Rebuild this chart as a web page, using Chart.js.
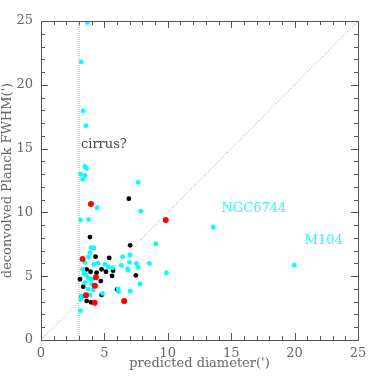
<!DOCTYPE html>
<html lang="en">
<head>
    <meta charset="UTF-8">
    <title>Planck FWHM vs predicted diameter</title>
    <script src="https://cdn.jsdelivr.net/npm/chart.js"></script>
    <style>
        body { margin: 0; padding: 0; background: #fff; }
        #wrap { width: 382px; height: 382px; }
    </style>
</head>
<body>
    <div id="wrap"><canvas id="chart"></canvas></div>
    <script>
        // cyan points (predicted diameter, deconvolved FWHM)
        const cyanX = [3.65, 3.17, 3.31, 3.54, 3.46, 3.6, 3.12, 3.46, 3.28, 7.66, 4.41, 7.85, 3.12, 3.75, 13.57, 19.97,
            3.94, 4.17, 9.06, 3.86, 6.43, 7.03, 3.46, 4.17, 4.51, 5.04, 5.3, 5.64, 6.32, 6.98, 7.53, 7.66, 8.53, 9.9,
            3.28, 3.39, 3.54, 6.87, 3.72, 3.99, 3.46, 3.99, 7.8, 3.72, 4.12, 6.12, 6.08, 7.03, 3.2, 3.86, 3.1, 3.74, 3.12, 4.85, 6.83];
        const cyanY = [24.9, 21.8, 17.95, 16.8, 13.6, 13.45, 13.0, 12.9, 12.6, 12.36, 10.37, 10.1, 9.4, 9.46, 8.86, 5.88,
            7.23, 7.23, 7.55, 6.84, 6.53, 6.66, 6.09, 5.93, 6.03, 5.93, 5.74, 5.67, 5.85, 6.09, 6.01, 5.7, 6.01, 5.27,
            5.54, 5.23, 5.12, 5.46, 4.86, 4.76, 4.49, 4.36, 4.39, 4.0, 3.92, 3.79, 4.0, 3.84, 3.45, 3.53, 2.3, 6.5, 3.2, 3.65, 5.6];
        // black points
        const blackX = [6.93, 3.86, 7.03, 4.3, 5.38, 3.6, 3.91, 4.38, 4.78, 5.12, 5.69, 5.61, 7.48, 3.07, 4.72, 3.33, 6.0, 4.78, 3.6, 3.94, 3.2];
        const blackY = [11.07, 8.07, 7.42, 6.53, 6.43, 5.54, 5.35, 5.27, 5.54, 5.35, 5.43, 5.02, 5.07, 4.76, 4.62, 4.18, 3.97, 3.53, 3.06, 2.95, 3.4];
        // red points
        const redX = [3.94, 9.84, 3.28, 4.33, 4.25, 3.54, 4.23, 6.56];
        const redY = [10.66, 9.4, 6.35, 4.91, 4.26, 3.5, 2.92, 3.06];

        const axisMax = 25;
        const cirrusCut = 3;   // vertical dotted line
        const labels = [
            { text: 'cirrus?', x: 3.15, y: 15.28, color: '#444444' },
            { text: 'NGC6744', x: 14.23, y: 10.27, color: '#33f5f5' },
            { text: 'M104', x: 20.79, y: 7.76, color: '#33f5f5' }
        ];

        const toPoints = (xs, ys) => xs.map((x, i) => ({ x: x, y: ys[i] }));
        const serif = 'DejaVu Serif';
        const axisColor = '#555555';
        const textColor = '#666666';

        // frame with inward ticks on all four sides
        const framePlugin = {
            id: 'frame',
            afterDraw(chart) {
                const ctx = chart.ctx;
                const a = chart.chartArea;
                const xs = chart.scales.x, ys = chart.scales.y;
                ctx.save();
                ctx.strokeStyle = axisColor;
                ctx.lineWidth = 1;
                ctx.strokeRect(a.left + 0.5, a.top + 0.5, a.right - a.left, a.bottom - a.top);
                ctx.beginPath();
                for (let v = 0; v <= axisMax; v++) {
                    const len = v % 5 === 0 ? 7 : 4;
                    const px = Math.round(xs.getPixelForValue(v)) + 0.5;
                    const py = Math.round(ys.getPixelForValue(v)) + 0.5;
                    ctx.moveTo(px, a.bottom); ctx.lineTo(px, a.bottom - len);
                    ctx.moveTo(px, a.top); ctx.lineTo(px, a.top + len);
                    ctx.moveTo(a.left, py); ctx.lineTo(a.left + len, py);
                    ctx.moveTo(a.right, py); ctx.lineTo(a.right - len, py);
                }
                ctx.stroke();
                // text labels
                ctx.font = '13px "' + serif + '"';
                ctx.textAlign = 'left';
                ctx.textBaseline = 'middle';
                labels.forEach(l => {
                    ctx.fillStyle = l.color;
                    ctx.fillText(l.text, xs.getPixelForValue(l.x), ys.getPixelForValue(l.y));
                });
                ctx.restore();
            }
        };

        const ctx = document.getElementById('chart').getContext('2d');
        new Chart(ctx, {
            type: 'scatter',
            data: {
                datasets: [
                    {
                        data: toPoints(redX, redY),
                        backgroundColor: '#ff0000',
                        borderWidth: 0,
                        pointRadius: 3
                    },
                    {
                        data: toPoints(cyanX, cyanY),
                        backgroundColor: '#00ffff',
                        borderWidth: 0,
                        pointRadius: 2.4
                    },
                    {
                        data: toPoints(blackX, blackY),
                        backgroundColor: '#000000',
                        borderWidth: 0,
                        pointRadius: 2.4
                    },
                    {
                        type: 'line',
                        data: [{ x: 0, y: 0 }, { x: axisMax, y: axisMax }],
                        borderColor: '#999999',
                        borderWidth: 1,
                        borderDash: [1, 2],
                        pointRadius: 0
                    },
                    {
                        type: 'line',
                        data: [{ x: cirrusCut, y: 0 }, { x: cirrusCut, y: axisMax }],
                        borderColor: '#aaaaaa',
                        borderWidth: 1,
                        borderDash: [1, 1],
                        pointRadius: 0
                    }
                ]
            },
            options: {
                responsive: true,
                maintainAspectRatio: false,
                animation: false,
                layout: { padding: { top: 21, right: 24, bottom: 11, left: 0 } },
                plugins: {
                    legend: { display: false },
                    tooltip: { enabled: false }
                },
                scales: {
                    x: {
                        type: 'linear',
                        min: 0,
                        max: axisMax,
                        grid: { display: false, drawTicks: false },
                        border: { display: false },
                        ticks: { stepSize: 5, padding: 6, color: textColor, font: { family: serif, size: 13 } },
                        title: {
                            display: true,
                            text: "predicted diameter(')",
                            color: textColor,
                            padding: { top: 0, bottom: 0 },
                            font: { family: serif, size: 13 }
                        },
                        afterFit(scale) { scale.height = 31; }
                    },
                    y: {
                        type: 'linear',
                        min: 0,
                        max: axisMax,
                        grid: { display: false, drawTicks: false },
                        border: { display: false },
                        ticks: { stepSize: 5, padding: 8, color: textColor, font: { family: serif, size: 13 } },
                        title: {
                            display: true,
                            text: "deconvolved Planck FWHM(')",
                            color: textColor,
                            padding: { top: 0, bottom: 0 },
                            font: { family: serif, size: 13 }
                        },
                        afterFit(scale) { scale.width = 41; }
                    }
                }
            },
            plugins: [framePlugin]
        });
    </script>
</body>
</html>
